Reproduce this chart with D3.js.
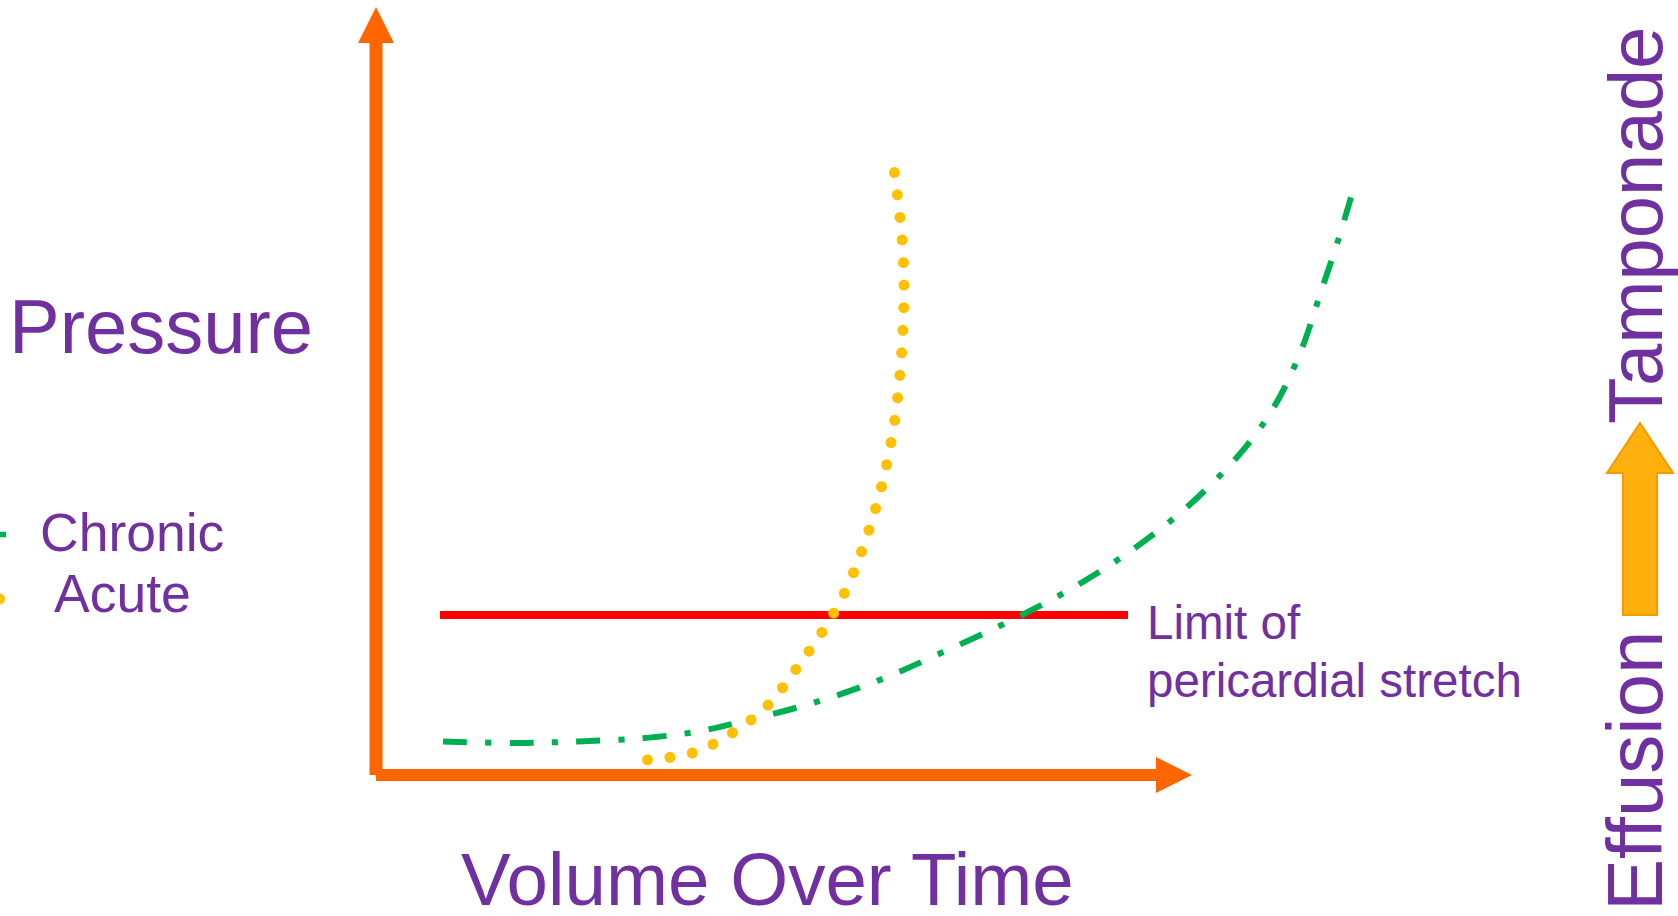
<!DOCTYPE html>
<html>
<head>
<meta charset="utf-8">
<script src="https://cdn.jsdelivr.net/npm/d3@7"></script>
<style>
  html, body { margin: 0; padding: 0; background: #fff; overflow: hidden; }
  svg { display: block; }
  text { font-family: "Liberation Sans", Arial, Helvetica, sans-serif; fill: #7030A0; }
</style>
</head>
<body>
<svg id="chart" width="1678" height="916"></svg>
<script>
// ---- data (volume / pressure in arbitrary units, 0-100) ----
const seriesNames = ["Chronic", "Acute"];

const chronicVolume   = [6.7, 13.8, 20.2, 26.6, 32.0, 37.3, 43.7, 50.2, 56.6, 64.6, 70.5, 75.8, 81.2, 86.5, 89.8, 92.4, 94.6, 96.2, 97.5];
const chronicPressure = [4.2, 4.0, 4.2, 4.6, 5.4, 6.9, 9.0, 11.8, 15.3, 20.0, 24.0, 28.3, 33.6, 40.3, 46.0, 52.7, 60.8, 66.8, 72.2];

const acuteVolume   = [27.15, 31.75, 35.8, 39.2, 42.1, 44.8, 46.9, 48.6, 50.0, 51.1, 51.9, 52.4, 52.7, 52.8, 52.6, 52.1, 51.8];
const acutePressure = [1.9, 2.8, 5.4, 8.75, 13.4, 18.25, 22.9, 28.1, 33.5, 39.0, 44.6, 50.25, 55.9, 61.5, 67.1, 72.9, 75.6];

const limitPressure = 20;
const limitVolumeRange = [6.4, 75.2];
const limitLabel = ["Limit of", "pericardial stretch"];

const axisTitles = { x: "Volume Over Time", y: "Pressure" };
const progression = ["Effusion", "Tamponade"];

// ---- styling ----
const PURPLE = "#7030A0", ORANGE = "#FF6600", GREEN = "#00B050", YELLOW = "#FFC000", RED = "#FF0000";
const W = 1678, H = 916;

const svg = d3.select("#chart");
svg.append("rect").attr("width", W).attr("height", H).attr("fill", "#fff");

const x = d3.scaleLinear().domain([0, 100]).range([376, 1376]);
const y = d3.scaleLinear().domain([0, 100]).range([775, -25]);

// axis extents (data units where the arrow tips sit)
const xAxisEnd = 81.6, yAxisEnd = 96;
const headLen = 36, headHalf = 18;

// ---- axes with arrow heads ----
const axes = svg.append("g").attr("class", "axes");
const x0 = x(0), y0 = y(0);
axes.append("line")
  .attr("x1", x0).attr("y1", y0)
  .attr("x2", x0).attr("y2", y(yAxisEnd) + headLen - 1)
  .attr("stroke", ORANGE).attr("stroke-width", 13);
axes.append("path")
  .attr("d", `M${x0},${y(yAxisEnd)} L${x0 + headHalf},${y(yAxisEnd) + headLen} L${x0 - headHalf},${y(yAxisEnd) + headLen} Z`)
  .attr("fill", ORANGE);
axes.append("line")
  .attr("x1", x0).attr("y1", y0)
  .attr("x2", x(xAxisEnd) - headLen + 1).attr("y2", y0)
  .attr("stroke", ORANGE).attr("stroke-width", 12);
axes.append("path")
  .attr("d", `M${x(xAxisEnd)},${y0} L${x(xAxisEnd) - headLen},${y0 - headHalf} L${x(xAxisEnd) - headLen},${y0 + headHalf} Z`)
  .attr("fill", ORANGE);

// ---- limit of pericardial stretch ----
svg.append("line")
  .attr("x1", x(limitVolumeRange[0])).attr("x2", x(limitVolumeRange[1]))
  .attr("y1", y(limitPressure)).attr("y2", y(limitPressure))
  .attr("stroke", RED).attr("stroke-width", 8);

const limitText = svg.append("text")
  .attr("x", x(limitVolumeRange[1]) + 19)
  .attr("y", y(limitPressure) + 24)
  .attr("font-size", 47.5);
limitText.selectAll("tspan").data(limitLabel).join("tspan")
  .attr("x", x(limitVolumeRange[1]) + 19)
  .attr("dy", (d, i) => i === 0 ? 0 : 58)
  .text(d => d);

// ---- curves ----
const line = d3.line().x(d => x(d[0])).y(d => y(d[1])).curve(d3.curveCatmullRom.alpha(0.5));

const chronic = d3.zip(chronicVolume, chronicPressure);
const acute = d3.zip(acuteVolume, acutePressure);

const chronicPath = svg.append("path")
  .datum(chronic)
  .attr("d", line)
  .attr("fill", "none")
  .attr("stroke", GREEN)
  .attr("stroke-width", 6);

// dash-dot pattern, stretched slightly so the line finishes on a full dash
{
  const base = [24, 18, 6, 18];
  const period = d3.sum(base);
  const len = chronicPath.node().getTotalLength();
  const n = Math.max(1, Math.round((len - base[0]) / period));
  const k = (len - base[0]) / (n * period);
  chronicPath.attr("stroke-dasharray", base.map((v, i) => i === 0 ? v : v * k + (k - 1) * base[0] / 3).join(" "));
}

svg.append("path")
  .datum(acute)
  .attr("d", line)
  .attr("fill", "none")
  .attr("stroke", YELLOW)
  .attr("stroke-width", 11)
  .attr("stroke-linecap", "round")
  .attr("stroke-dasharray", "0 22.6");

// ---- legend (samples run off the left edge) ----
const legend = svg.append("g").attr("class", "legend");
const legendRows = [
  { name: seriesNames[0], y: 534.5, tx: 40, ty: 551 },
  { name: seriesNames[1], y: 599, tx: 54, ty: 612 }
];
legend.append("line")
  .attr("x1", -18).attr("x2", 6).attr("y1", legendRows[0].y).attr("y2", legendRows[0].y)
  .attr("stroke", GREEN).attr("stroke-width", 5.5);
legend.append("line")
  .attr("x1", -45.7).attr("x2", 8).attr("y1", legendRows[1].y).attr("y2", legendRows[1].y)
  .attr("stroke", YELLOW).attr("stroke-width", 11).attr("stroke-linecap", "round")
  .attr("stroke-dasharray", "0 22.6");
legend.selectAll("text").data(legendRows).join("text")
  .attr("x", d => d.tx).attr("y", d => d.ty)
  .attr("font-size", 53.5)
  .text(d => d.name);

// ---- axis titles ----
svg.append("text")
  .attr("x", 9).attr("y", 353)
  .attr("font-size", 76)
  .text(axisTitles.y);
svg.append("text")
  .attr("x", 461).attr("y", 905)
  .attr("font-size", 74.5)
  .text(axisTitles.x);

// ---- effusion -> tamponade progression ----
const side = svg.append("g").attr("class", "progression");
side.append("text")
  .attr("transform", "translate(1662,911) rotate(-90)")
  .attr("font-size", 78)
  .text(progression[0]);
side.append("text")
  .attr("transform", "translate(1662,424) rotate(-90)")
  .attr("font-size", 76)
  .text(progression[1]);
side.append("path")
  .attr("d", "M1640,423 L1673,473 L1657,473 L1657,615 L1623,615 L1623,473 L1607,473 Z")
  .attr("fill", "#FFB00D")
  .attr("stroke", "#F79A00")
  .attr("stroke-width", 2)
  .attr("stroke-linejoin", "miter");
</script>
</body>
</html>
